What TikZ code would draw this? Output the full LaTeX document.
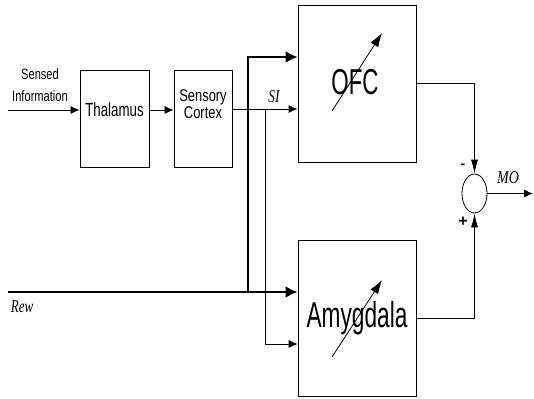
\documentclass[tikz,border=0pt]{standalone}
\usepackage{fontspec}
\setmainfont{Liberation Sans}
\newfontfamily\lblfont{Liberation Serif}
\usetikzlibrary{arrows.meta,shapes.geometric}
\begin{document}
\begin{tikzpicture}[x=1pt,y=-1pt,
  box/.style={draw,line width=0.8pt,inner sep=0pt},
  thin/.style={line width=0.8pt},
  thick/.style={line width=2.5pt},
  tarrow/.style={thin,-{Latex[length=9,width=8]}},
  karrow/.style={thick,-{Latex[length=12,width=12]}},
  varrow/.style={thin,-{Latex[length=14,width=7]}},
  adj/.style={thin,-{Latex[length=14,width=9]}},
  lbl/.style={inner sep=0pt,font=\lblfont\itshape\fontsize{18}{18}\selectfont}
]
\useasboundingbox (0,0) rectangle (534,398);
\fill[white] (0,0) rectangle (534,398);
% boxes
\node[box,minimum width=69,minimum height=97] (thal) at (114.5,118.5) {};
\node[box,minimum width=58,minimum height=97] (sens) at (203,118.5) {};
\node[box,minimum width=118,minimum height=157] (ofc) at (357,83.5) {};
\node[box,minimum width=118,minimum height=156] (amyg) at (357,318) {};
\node[draw,thin,ellipse,minimum width=25,minimum height=39,inner sep=0pt] (sum) at (474.5,193.5) {};
% box texts
\node[inner sep=0pt,font=\fontsize{19}{19}\selectfont] (thaltxt) at (114.5,110) {\scalebox{0.7}[1]{Thalamus}};
\node[inner sep=0pt,font=\fontsize{17}{15}\selectfont,align=center] (senstxt) at (203,104) {\scalebox{0.76}[1]{Sensory}\\\scalebox{0.76}[1]{Cortex}};
\node[inner sep=0pt,font=\fontsize{36}{36}\selectfont] (ofctxt) at (355,82) {\scalebox{0.62}[1]{OFC}};
\node[inner sep=0pt,font=\fontsize{36}{36}\selectfont] (amygtxt) at (357,318) {\scalebox{0.63}[1]{Amygdala}};
\node[inner sep=0pt,font=\fontsize{15}{22}\selectfont,align=center] (sensed) at (40,85) {\scalebox{0.74}[1]{Sensed}\\\scalebox{0.74}[1]{Information}};
% adjustable arrows
\coordinate (o1) at (332,111); \coordinate (o2) at (382,33);
\coordinate (a1) at (332,357); \coordinate (a2) at (382,280);
\draw[adj] (o1) -- (o2);
\draw[adj] (a1) -- (a2);
% labels
\node[lbl] (si) at (274,97) {\scalebox{0.74}[1]{SI}};
\node[lbl] (rewl) at (22,307) {\scalebox{0.72}[1]{Rew}};
\node[lbl] (mol) at (508,178) {\scalebox{0.78}[1]{MO}};
\node[inner sep=0pt,font=\bfseries\fontsize{14}{14}\selectfont] (minus) at (463,166) {-};
\node[inner sep=0pt,font=\bfseries\fontsize{16}{16}\selectfont] (plus) at (463,222) {+};
% coordinates
\coordinate (in) at (8,110);
\coordinate (lvl) at (0,110);
\coordinate (silvl) at (0,109);
\coordinate (b1) at (265,109);
\coordinate (b2) at (265,344);
\coordinate (rew) at (8,292);
\coordinate (k1) at (248,292);
\coordinate (k2) at (248,57);
\coordinate (out) at (533,193.5);
% connectors
\draw[tarrow] (in) -- (in -| thal.west);
\draw[tarrow] (thal.east |- lvl) -- (sens.west |- lvl);
\draw[tarrow] (sens.east |- silvl) -- (ofc.west |- silvl);
\draw[tarrow] (b1) -- (b2) -- (b2 -| amyg.west);
\draw[karrow] (rew) -- (rew -| amyg.west);
\draw[karrow] (k1) -- (k2) -- (k2 -| ofc.west);
\draw[varrow] (ofc.east) -| (sum.north);
\draw[varrow] (amyg.east) -| (sum.south);
\draw[tarrow] (sum.east) -- (out);
\end{tikzpicture}
\end{document}
